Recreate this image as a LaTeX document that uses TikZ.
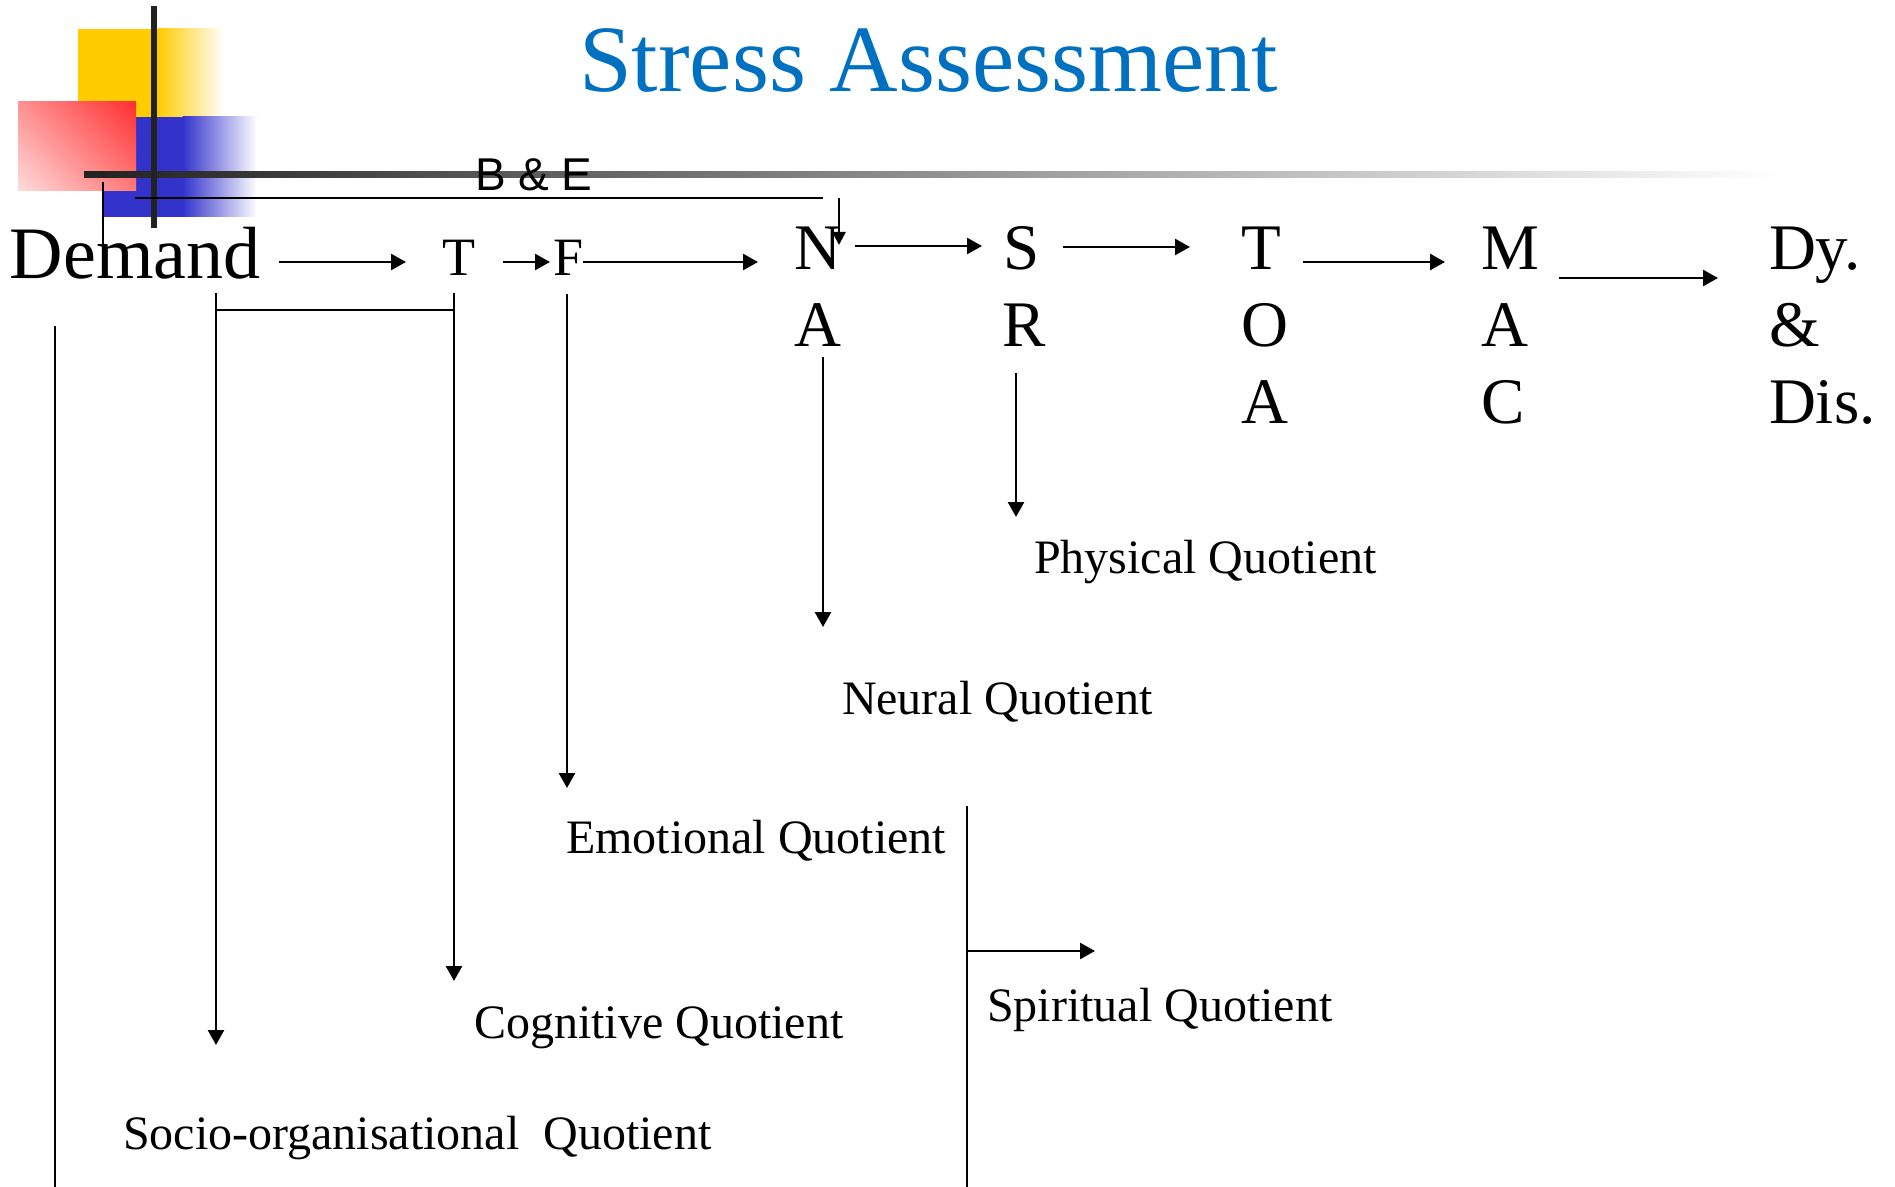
\documentclass[tikz,border=0pt]{standalone}
\usepackage{fontspec}
\setmainfont{Liberation Serif}
\newfontfamily\besans{Liberation Sans}
\usetikzlibrary{arrows.meta}
\definecolor{titleblue}{RGB}{0,112,192}
\definecolor{decoyellow}{RGB}{255,204,0}
\definecolor{decoblue}{RGB}{51,51,204}
\definecolor{decored}{RGB}{255,12,12}
\definecolor{decodark}{RGB}{34,34,34}
\pgfdeclareverticalshading{redfadeshade}{100bp}{color(0bp)=(white); color(100bp)=(decored)}
\begin{document}
\begin{tikzpicture}[x=0.5pt,y=-0.5pt,
  lbl/.style={inner sep=0pt, outer sep=0pt, anchor=base west},
  ttl/.style={lbl, font=\fontsize{47.5pt}{57pt}\selectfont, text=titleblue},
  demf/.style={lbl, font=\fontsize{37pt}{44pt}\selectfont},
  tff/.style={lbl, font=\fontsize{27pt}{32pt}\selectfont},
  colf/.style={lbl, font=\fontsize{32.5pt}{39pt}\selectfont},
  qf/.style={lbl, font=\fontsize{24pt}{29pt}\selectfont},
  bef/.style={lbl, font=\besans\fontsize{23pt}{28pt}\selectfont},
  conn/.style={line width=1.3pt, black},
  arr/.style={conn, -{Triangle[length=7.5pt,width=8pt]}},
]
\useasboundingbox (0,0) rectangle (1895,1187);
\fill[white] (0,0) rectangle (1895,1187);

% decoration
\fill[decoyellow] (78,29) rectangle (158,117);
\shade[left color=decoyellow, right color=white] (157.5,29) rectangle (224,117);
\fill[decoblue] (103,117) rectangle (183,217);
\shade[left color=decoblue, right color=white] (182.5,117) rectangle (257,217);
\shade[shading=redfadeshade, shading angle=-45] (18,102) rectangle (136,191);
\shade[left color=decodark, right color=white] (84,172) rectangle (1780,178);
\fill[decodark] (151,6) rectangle (157,228);

% texts
\node[ttl] (title) at (579,92) {Stress Assessment};
\node[bef] (be) at (475,191) {B \& E};
\node[demf] (dem) at (10,279) {Demand};
\node[tff] (t1) at (442,276) {T};
\node[tff] (f1) at (553,276) {F};
\node[colf] (cN) at (794,270) {N};
\node[colf] (cA1) at (794,347) {A};
\node[colf] (cS) at (1003,270) {S};
\node[colf] (cR) at (1002,347) {R};
\node[colf] (cT) at (1241,270) {T};
\node[colf] (cO) at (1241,347) {O};
\node[colf] (cA2) at (1241,423) {A};
\node[colf] (cM) at (1481,270) {M};
\node[colf] (cA3) at (1481,347) {A};
\node[colf] (cC) at (1481,423) {C};
\node[colf] (cDy) at (1769,270) {Dy.};
\node[colf] (cAmp) at (1769,347) {\&};
\node[colf] (cDis) at (1769,423) {Dis.};
\node[qf] (phys) at (1034,573) {Physical Quotient};
\node[qf] (neur) at (842,714) {Neural Quotient};
\node[qf] (emo) at (566,853) {Emotional Quotient};
\node[qf] (spir) at (987,1021) {Spiritual Quotient};
\node[qf] (cog) at (474,1038) {Cognitive Quotient};
\node[qf] (soc) at (123,1149) {Socio-organisational\ \ Quotient};

% connector end points
\coordinate (demR) at (279,262);  \coordinate (tL) at (406,262);
\coordinate (tR) at (503,262);    \coordinate (fL) at (550,262);
\coordinate (fR) at (583,262);    \coordinate (nL) at (758,262);
\coordinate (nR) at (855,246);    \coordinate (sL) at (982,246);
\coordinate (sR) at (1063,247);   \coordinate (ttL) at (1190,247);
\coordinate (ttR) at (1303,262);  \coordinate (mL) at (1445,262);
\coordinate (mR) at (1559,278);   \coordinate (dyL) at (1718,278);
\coordinate (beS) at (135,198);   \coordinate (beE) at (823,198);
\coordinate (nTop) at (839,198);  \coordinate (nTip) at (839,245);
\coordinate (tick1) at (103,182); \coordinate (tick2) at (103,245);
\coordinate (brL) at (216,293);   \coordinate (brR) at (454,293);
\coordinate (brLm) at (216,310);  \coordinate (brRm) at (454,310);
\coordinate (socTip) at (216,1045); \coordinate (cogTip) at (454,981);
\coordinate (fTop) at (567,294);  \coordinate (emoTip) at (567,788);
\coordinate (naTop) at (823,357); \coordinate (neurTip) at (823,627);
\coordinate (srTop) at (1016,373); \coordinate (physTip) at (1016,517);
\coordinate (leftTop) at (55,326); \coordinate (leftBot) at (55,1187);
\coordinate (spTop) at (967,806); \coordinate (spBot) at (967,1187);
\coordinate (spMid) at (967,951); \coordinate (spTip) at (1095,951);

% connectors
\draw[arr] (demR) -- (tL);
\draw[arr] (tR) -- (fL);
\draw[arr] (fR) -- (nL);
\draw[arr] (nR) -- (sL);
\draw[arr] (sR) -- (ttL);
\draw[arr] (ttR) -- (mL);
\draw[arr] (mR) -- (dyL);
\draw[conn] (beS) -- (beE);
\draw[conn, -{Triangle[length=6.5pt,width=6.5pt]}] (nTop) -- (nTip);
\draw[conn] (tick1) -- (tick2);
\draw[conn] (brLm) -- (brRm);
\draw[arr] (brL) -- (socTip);
\draw[arr] (brR) -- (cogTip);
\draw[arr] (fTop) -- (emoTip);
\draw[arr] (naTop) -- (neurTip);
\draw[arr] (srTop) -- (physTip);
\draw[conn] (leftTop) -- (leftBot);
\draw[conn] (spTop) -- (spBot);
\draw[arr] (spMid) -- (spTip);
\end{tikzpicture}
\end{document}
